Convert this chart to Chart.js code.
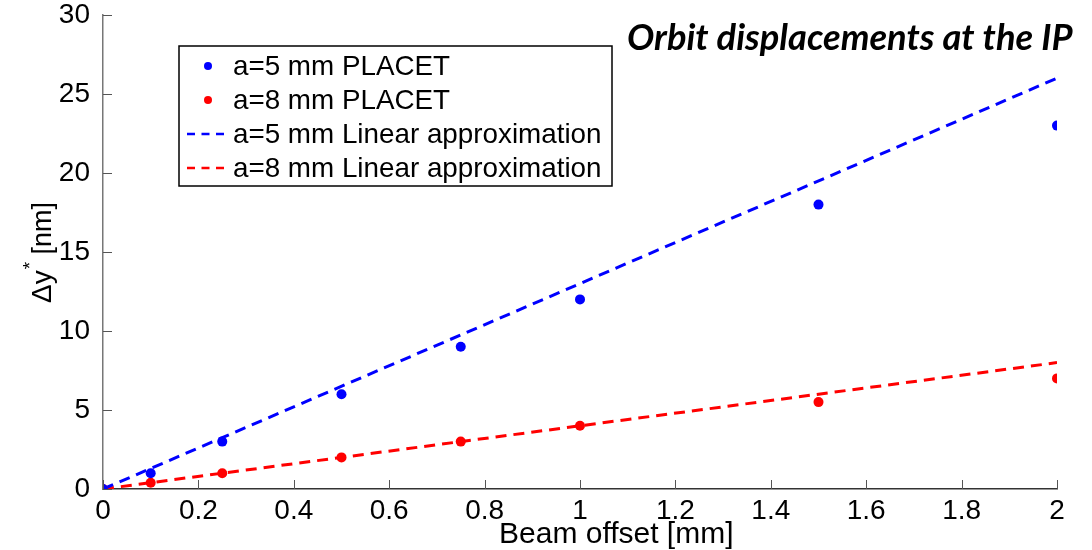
<!DOCTYPE html>
<html>
<head>
<meta charset="utf-8">
<script src="https://cdn.jsdelivr.net/npm/chart.js@4.4.1/dist/chart.umd.min.js"></script>
<style>
  html, body { margin: 0; padding: 0; background: #fff; }
  #wrap { width: 1092px; height: 550px; position: relative; }
</style>
</head>
<body>
<div id="wrap"><canvas id="orbit"></canvas></div>
<script>
// Beam offset [mm] and the vertical orbit shift at the IP [nm]
const offsets = [0, 0.1, 0.25, 0.5, 0.75, 1, 1.5, 2];
const placetA5 = [0, 1, 3, 6, 9, 12, 18, 23];
const placetA8 = [0, 0.4, 1, 2, 3, 4, 5.5, 7];

// Linear approximations, evaluated at both ends of the offset range
const fitOffsets = [0, 2];
const linearA5 = [0, 26];
const linearA8 = [0, 8];

const xTicks = [0, 0.2, 0.4, 0.6, 0.8, 1, 1.2, 1.4, 1.6, 1.8, 2];
const yTicks = [0, 5, 10, 15, 20, 25, 30];

const BLUE = '#0000ff';
const RED = '#ff0000';
const FONT = 'Liberation Sans, Arial, Helvetica, sans-serif';

const toPoints = (xs, ys) => xs.map((x, i) => ({ x, y: ys[i] }));

// MATLAB-style ticks pointing into the axes, plus titles and the boxed legend
const decorations = {
  id: 'decorations',
  afterDraw(chart) {
    const { ctx, chartArea: area, scales: { x, y } } = chart;
    ctx.save();

    ctx.strokeStyle = '#555';
    ctx.lineWidth = 1;
    ctx.beginPath();
    xTicks.forEach((v) => {
      const px = Math.round(x.getPixelForValue(v)) + 0.5;
      ctx.moveTo(px, area.bottom);
      ctx.lineTo(px, area.bottom - 9);
    });
    yTicks.forEach((v) => {
      const py = Math.round(y.getPixelForValue(v)) + 0.5;
      ctx.moveTo(area.left, py);
      ctx.lineTo(area.left + 9, py);
    });
    ctx.stroke();

    // title
    ctx.fillStyle = '#000';
    ctx.textBaseline = 'alphabetic';
    ctx.textAlign = 'left';
    const title = 'Orbit displacements at the IP';
    ctx.font = 'italic bold 32px Lato, sans-serif';
    const fit = 32 * 446 / ctx.measureText(title).width;
    ctx.font = `italic bold ${fit.toFixed(1)}px Lato, sans-serif`;
    ctx.fillText(title, 627, 50);

    // x axis title
    ctx.font = `30px ${FONT}`;
    ctx.fillText('Beam offset [mm]', 499, 543);

    // y axis title, rotated, with a superscript star
    ctx.save();
    ctx.translate(51, 303);
    ctx.rotate(-Math.PI / 2);
    ctx.font = `28px ${FONT}`;
    ctx.fillText('\u0394y', 0, 0);
    let w = ctx.measureText('\u0394y').width;
    ctx.font = `19px ${FONT}`;
    ctx.fillText('*', w + 1, -15);
    w += ctx.measureText('*').width + 1;
    ctx.font = `27px ${FONT}`;
    ctx.fillText(' [nm]', w, 0);
    ctx.restore();

    // legend
    ctx.fillStyle = '#fff';
    ctx.fillRect(179, 46, 433, 140);
    ctx.strokeStyle = '#000';
    ctx.lineWidth = 1.5;
    ctx.strokeRect(179, 46, 433, 140);

    const rows = [66, 100, 134, 168];
    chart.data.datasets.forEach((ds, i) => {
      const cy = rows[i];
      if (ds.showLine) {
        ctx.strokeStyle = ds.borderColor;
        ctx.lineWidth = 2.5;
        ctx.setLineDash([8, 6.5]);
        ctx.beginPath();
        ctx.moveTo(187, cy);
        ctx.lineTo(230, cy);
        ctx.stroke();
        ctx.setLineDash([]);
      } else {
        ctx.fillStyle = ds.backgroundColor;
        ctx.beginPath();
        ctx.arc(208, cy, 4, 0, Math.PI * 2);
        ctx.fill();
      }
      ctx.fillStyle = '#000';
      ctx.font = `27.8px ${FONT}`;
      ctx.textBaseline = 'middle';
      ctx.fillText(ds.label, 233, cy + 1);
    });

    ctx.restore();
  },
};

new Chart(document.getElementById('orbit'), {
  type: 'scatter',
  data: {
    datasets: [
      {
        label: 'a=5 mm PLACET',
        data: toPoints(offsets, placetA5),
        backgroundColor: BLUE,
        borderColor: BLUE,
        pointRadius: 5,
        pointBorderWidth: 0,
        showLine: false,
      },
      {
        label: 'a=8 mm PLACET',
        data: toPoints(offsets, placetA8),
        backgroundColor: RED,
        borderColor: RED,
        pointRadius: 5,
        pointBorderWidth: 0,
        showLine: false,
      },
      {
        label: 'a=5 mm Linear approximation',
        data: toPoints(fitOffsets, linearA5),
        borderColor: BLUE,
        borderWidth: 3,
        borderDash: [11, 7],
        pointRadius: 0,
        showLine: true,
      },
      {
        label: 'a=8 mm Linear approximation',
        data: toPoints(fitOffsets, linearA8),
        borderColor: RED,
        borderWidth: 3,
        borderDash: [11, 7],
        pointRadius: 0,
        showLine: true,
      },
    ],
  },
  options: {
    responsive: true,
    maintainAspectRatio: false,
    animation: false,
    layout: {
      padding: { top: 15, right: 35, bottom: 0, left: 0 },
    },
    plugins: {
      legend: { display: false },
      tooltip: { enabled: false },
    },
    scales: {
      x: {
        type: 'linear',
        min: 0,
        max: 2,
        afterFit: (scale) => {
          scale.height = 61;
          scale.paddingLeft = 0;
          scale.paddingRight = 0;
        },
        afterBuildTicks: (scale) => { scale.ticks = xTicks.map((value) => ({ value })); },
        ticks: {
          color: '#000',
          padding: -3,
          font: { family: FONT, size: 28 },
          maxRotation: 0,
          callback: (value) => String(value),
        },
        grid: { display: false },
        border: { display: true, color: '#333', width: 1.5 },
      },
      y: {
        type: 'linear',
        min: 0,
        max: 30,
        afterFit: (scale) => {
          scale.width = 103;
          scale.paddingTop = 0;
          scale.paddingBottom = 0;
        },
        afterBuildTicks: (scale) => { scale.ticks = yTicks.map((value) => ({ value })); },
        ticks: {
          color: '#000',
          padding: 5,
          font: { family: FONT, size: 28 },
          callback: (value) => String(value),
        },
        grid: { display: false },
        border: { display: true, color: '#777', width: 1.5 },
      },
    },
  },
  plugins: [decorations],
});
</script>
</body>
</html>
